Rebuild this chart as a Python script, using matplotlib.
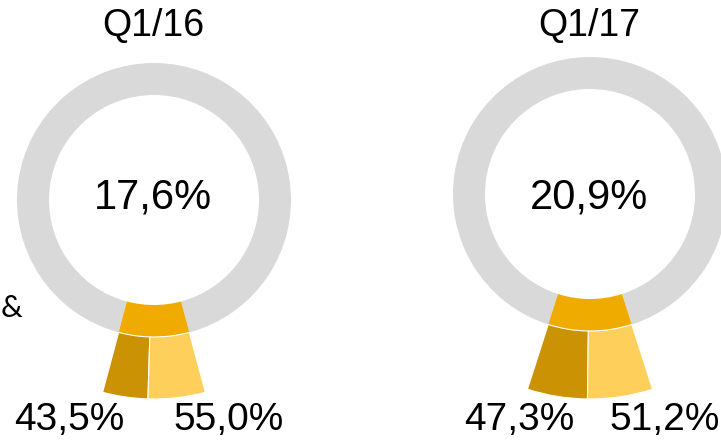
import matplotlib.pyplot as plt
from matplotlib.patches import Wedge

plt.rcParams['font.family'] = ['Liberation Sans', 'DejaVu Sans']

quarters = ['Q1/16', 'Q1/17']
totals = [17.6, 20.9]
split_dark = [43.5, 47.3]
split_light = [55.0, 51.2]
total_labels = ['17,6%', '20,9%']
dark_labels = ['43,5%', '47,3%']
light_labels = ['55,0%', '51,2%']

W, H = 721, 442
centers = [(154, H - 200), (590, H - 194)]
r_out, r_in = 137, 105
r_ext = [199, 205]
deg_per_pt = 1.7

gray = '#D9D9D9'
gold = '#F0AB00'
dark = '#CB9204'
light = '#FFCF5C'

fig = plt.figure(figsize=(W / 100, H / 100), dpi=100)
ax = fig.add_axes([0, 0, 1, 1])
ax.set_xlim(0, W)
ax.set_ylim(0, H)
ax.set_aspect('equal')
ax.axis('off')

for i, (cx, cy) in enumerate(centers):
    span = totals[i] * deg_per_pt
    a0 = 270 - span / 2
    a1 = 270 + span / 2
    # gray ring and highlighted share
    ax.add_patch(Wedge((cx, cy), r_out, a1, a0 + 360, width=r_out - r_in,
                       facecolor=gray, edgecolor='none'))
    ax.add_patch(Wedge((cx, cy), r_out, a0, a1, width=r_out - r_in,
                       facecolor=gold, edgecolor='none'))
    # breakdown below the ring
    frac = split_dark[i] / (split_dark[i] + split_light[i])
    am = a0 + span * frac
    ax.add_patch(Wedge((cx, cy), r_ext[i], a0, am, width=r_ext[i] - r_out,
                       facecolor=dark, edgecolor='white', linewidth=0.8))
    ax.add_patch(Wedge((cx, cy), r_ext[i], am, a1, width=r_ext[i] - r_out,
                       facecolor=light, edgecolor='white', linewidth=0.8))

    ax.text(cx - 1, H - 26, quarters[i], ha='center', va='center', fontsize=27)
    ax.text(cx - 1, H - 197, total_labels[i], ha='center', va='center', fontsize=30)

label_x = [(69, 229), (519, 665)]
for i in range(2):
    ax.text(label_x[i][0], H - 420, dark_labels[i], ha='center', va='center', fontsize=28)
    ax.text(label_x[i][1], H - 420, light_labels[i], ha='center', va='center', fontsize=28)

ax.text(1, H - 308, '&', ha='left', va='center', fontsize=22, family=['Lato', 'DejaVu Sans'])

fig.savefig('out.png', dpi=100)
